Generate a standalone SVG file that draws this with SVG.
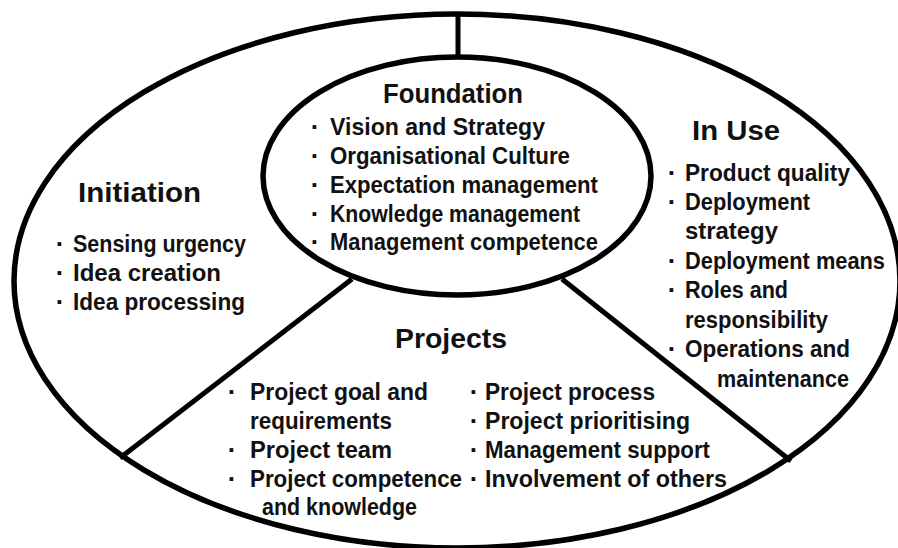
<svg xmlns="http://www.w3.org/2000/svg" width="898" height="548" viewBox="0 0 898 548">
<style>
  .shape { fill: none; stroke: #000; stroke-width: 5.5; }
  .conn { stroke: #000; stroke-width: 5; stroke-linecap: butt; fill: none; }
  text { font-family: "Liberation Sans", Arial, sans-serif; font-weight: bold; fill: #111; }
  .title { font-size: 27px; }
  .item { font-size: 23px; }
  .bul { font-size: 26px; text-anchor: middle; }
</style>
<rect x="0" y="0" width="898" height="548" fill="#fff"/>
<ellipse class="shape" cx="457" cy="281" rx="443" ry="267"/>
<g id="connectors">
  <line class="conn" x1="458" y1="14" x2="458" y2="58"/>
  <line class="conn" x1="352" y1="279" x2="120" y2="458"/>
  <line class="conn" x1="562" y1="279" x2="791" y2="461"/>
</g>
<g id="foundation">
  <ellipse class="shape" cx="457" cy="176" rx="194" ry="119" fill="#fff"/>
  <text class="title" x="383" y="103" textLength="140" lengthAdjust="spacingAndGlyphs">Foundation</text>
  <text class="bul" x="315" y="136">·</text>
  <text class="item" x="330" y="135" textLength="215" lengthAdjust="spacingAndGlyphs">Vision and Strategy</text>
  <text class="bul" x="315" y="165">·</text>
  <text class="item" x="330" y="164" textLength="240" lengthAdjust="spacingAndGlyphs">Organisational Culture</text>
  <text class="bul" x="315" y="194">·</text>
  <text class="item" x="330" y="193" textLength="268" lengthAdjust="spacingAndGlyphs">Expectation management</text>
  <text class="bul" x="315" y="222.5">·</text>
  <text class="item" x="330" y="221.5" textLength="250" lengthAdjust="spacingAndGlyphs">Knowledge management</text>
  <text class="bul" x="315" y="251">·</text>
  <text class="item" x="330" y="250" textLength="268" lengthAdjust="spacingAndGlyphs">Management competence</text>
</g>
<g id="initiation">
  <text class="title" x="78" y="201.5" textLength="123" lengthAdjust="spacingAndGlyphs">Initiation</text>
  <text class="bul" x="60" y="252.5">·</text>
  <text class="item" x="73" y="251.5" textLength="173" lengthAdjust="spacingAndGlyphs">Sensing urgency</text>
  <text class="bul" x="60" y="282">·</text>
  <text class="item" x="73" y="281" textLength="148" lengthAdjust="spacingAndGlyphs">Idea creation</text>
  <text class="bul" x="60" y="311">·</text>
  <text class="item" x="73" y="310" textLength="172" lengthAdjust="spacingAndGlyphs">Idea processing</text>
</g>
<g id="inuse">
  <text class="title" x="692" y="140" textLength="88" lengthAdjust="spacingAndGlyphs">In Use</text>
  <text class="bul" x="672" y="182">·</text>
  <text class="item" x="685" y="181" textLength="165" lengthAdjust="spacingAndGlyphs">Product quality</text>
  <text class="bul" x="672" y="211">·</text>
  <text class="item" x="685" y="210" textLength="125" lengthAdjust="spacingAndGlyphs">Deployment</text>
  <text class="item" x="685" y="239" textLength="93" lengthAdjust="spacingAndGlyphs">strategy</text>
  <text class="bul" x="672" y="269.5">·</text>
  <text class="item" x="685" y="268.5" textLength="200" lengthAdjust="spacingAndGlyphs">Deployment means</text>
  <text class="bul" x="672" y="299">·</text>
  <text class="item" x="685" y="298" textLength="103" lengthAdjust="spacingAndGlyphs">Roles and</text>
  <text class="item" x="685" y="327.5" textLength="143" lengthAdjust="spacingAndGlyphs">responsibility</text>
  <text class="bul" x="672" y="358">·</text>
  <text class="item" x="685" y="357" textLength="165" lengthAdjust="spacingAndGlyphs">Operations and</text>
  <text class="item" x="717" y="386.5" textLength="132" lengthAdjust="spacingAndGlyphs">maintenance</text>
</g>
<g id="projects">
  <text class="title" x="395" y="348" textLength="112" lengthAdjust="spacingAndGlyphs">Projects</text>
  <text class="bul" x="232" y="401">·</text>
  <text class="item" x="250" y="400" textLength="178" lengthAdjust="spacingAndGlyphs">Project goal and</text>
  <text class="item" x="250" y="428.5" textLength="142" lengthAdjust="spacingAndGlyphs">requirements</text>
  <text class="bul" x="232" y="459">·</text>
  <text class="item" x="250" y="458" textLength="142" lengthAdjust="spacingAndGlyphs">Project team</text>
  <text class="bul" x="232" y="488">·</text>
  <text class="item" x="250" y="487" textLength="212" lengthAdjust="spacingAndGlyphs">Project competence</text>
  <text class="item" x="262" y="515" textLength="155" lengthAdjust="spacingAndGlyphs">and knowledge</text>
  <text class="bul" x="474" y="401">·</text>
  <text class="item" x="485" y="400" textLength="170" lengthAdjust="spacingAndGlyphs">Project process</text>
  <text class="bul" x="474" y="429.5">·</text>
  <text class="item" x="485" y="428.5" textLength="205" lengthAdjust="spacingAndGlyphs">Project prioritising</text>
  <text class="bul" x="474" y="459">·</text>
  <text class="item" x="485" y="458" textLength="225" lengthAdjust="spacingAndGlyphs">Management support</text>
  <text class="bul" x="474" y="488">·</text>
  <text class="item" x="485" y="487" textLength="242" lengthAdjust="spacingAndGlyphs">Involvement of others</text>
</g>
</svg>
